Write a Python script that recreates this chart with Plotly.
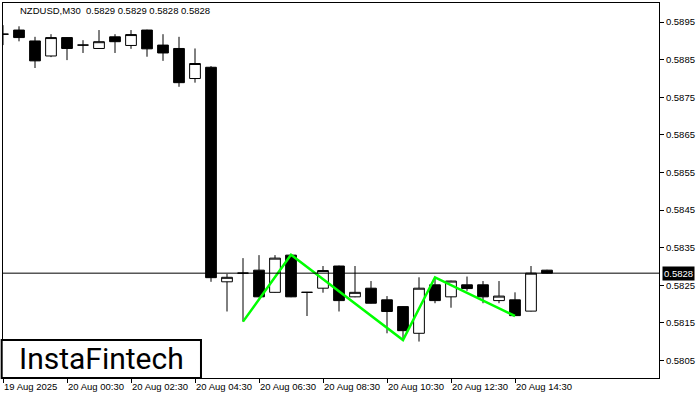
import plotly.graph_objects as go

# ---- data (NZDUSD, M30) ----
bar_index = list(range(35))
open_ = [0.58918, 0.58929, 0.58900, 0.58860, 0.58909, 0.58889, 0.58880, 0.58911, 0.58888, 0.58929,
         0.58889, 0.58880, 0.58800, 0.58830, 0.58259, 0.58282, 0.58290, 0.58231, 0.58330, 0.58231,
         0.58242, 0.58301, 0.58219, 0.58242, 0.58211, 0.58193, 0.58122, 0.58251, 0.58219, 0.58251,
         0.58251, 0.58209, 0.58211, 0.58181, 0.58290]
high = [0.58942, 0.58939, 0.58911, 0.58918, 0.58910, 0.58902, 0.58929, 0.58918, 0.58929, 0.58930,
        0.58918, 0.58911, 0.58880, 0.58833, 0.58280, 0.58322, 0.58330, 0.58330, 0.58331, 0.58232,
        0.58301, 0.58302, 0.58301, 0.58261, 0.58221, 0.58194, 0.58271, 0.58271, 0.58262, 0.58273,
        0.58261, 0.58261, 0.58231, 0.58301, 0.58291]
low = [0.58889, 0.58899, 0.58828, 0.58857, 0.58849, 0.58868, 0.58879, 0.58868, 0.58879, 0.58858,
       0.58847, 0.58778, 0.58789, 0.58259, 0.58180, 0.58153, 0.58218, 0.58230, 0.58218, 0.58168,
       0.58230, 0.58180, 0.58218, 0.58201, 0.58122, 0.58104, 0.58100, 0.58202, 0.58190, 0.58235,
       0.58202, 0.58202, 0.58168, 0.58180, 0.58281]
close = [0.58918, 0.58909, 0.58847, 0.58909, 0.58880, 0.58889, 0.58898, 0.58898, 0.58917, 0.58879,
         0.58868, 0.58789, 0.58840, 0.58270, 0.58271, 0.58282, 0.58219, 0.58322, 0.58219, 0.58231,
         0.58289, 0.58209, 0.58231, 0.58202, 0.58180, 0.58129, 0.58242, 0.58209, 0.58261, 0.58241,
         0.58219, 0.58221, 0.58169, 0.58282, 0.58282]

pattern_index = [15, 18, 25, 27, 32]
pattern_price = [0.58153, 0.58331, 0.58104, 0.58271, 0.58168]

x_tick_index = [0, 4, 8, 12, 16, 20, 24, 28, 32]
x_tick_labels = ["19 Aug 2025", "20 Aug 00:30", "20 Aug 02:30", "20 Aug 04:30", "20 Aug 06:30",
                 "20 Aug 08:30", "20 Aug 10:30", "20 Aug 12:30", "20 Aug 14:30"]
y_tick_values = [0.5805, 0.5815, 0.5825, 0.5835, 0.5845, 0.5855, 0.5865, 0.5875, 0.5885, 0.5895]
y_tick_labels = ["0.5805", "0.5815", "0.5825", "0.5835", "0.5845", "0.5855", "0.5865", "0.5875", "0.5885", "0.5895"]

title_text = "NZDUSD,M30\u00a0\u00a00.5829 0.5829 0.5828 0.5828"
current_price = close[-1]
current_label = "0.5828"

FONT = "Liberation Sans, Arial, sans-serif"

fig = go.Figure()
fig.add_trace(go.Candlestick(
    x=bar_index, open=open_, high=high, low=low, close=close,
    increasing=dict(fillcolor="white", line=dict(color="black", width=1)),
    decreasing=dict(fillcolor="black", line=dict(color="black", width=1)),
    whiskerwidth=0, showlegend=False, hoverinfo="skip",
))
fig.add_trace(go.Scatter(
    x=pattern_index, y=pattern_price, mode="lines",
    line=dict(color="#00ff00", width=2.5), showlegend=False, hoverinfo="skip",
))

fig.add_shape(type="line", xref="paper", x0=0, x1=1, yref="y", y0=current_price, y1=current_price,
              line=dict(color="black", width=1), layer="above")

# logo box
fig.add_shape(type="rect", xref="paper", yref="paper", x0=-0.002, x1=0.3018, y0=0, y1=0.1013,
              line=dict(color="black", width=2), fillcolor="white", layer="above")
fig.add_annotation(xref="paper", yref="paper", x=0.150, y=0.0507, text="InstaFintech",
                   showarrow=False, xanchor="center", yanchor="middle",
                   font=dict(family="Roboto, Open Sans, sans-serif", size=30, color="black"))

fig.add_annotation(xref="paper", yref="paper", x=0.0229, y=0.9787, text=title_text,
                   showarrow=False, xanchor="left", yanchor="middle",
                   font=dict(family=FONT, size=9.5, color="black"))

fig.add_annotation(xref="paper", yref="y", x=1, y=current_price, text=current_label,
                   showarrow=False, xanchor="left", yanchor="middle", xshift=3,
                   bgcolor="black", borderpad=1,
                   font=dict(family=FONT, size=9.5, color="white"))

fig.update_layout(
    width=700, height=400,
    margin=dict(l=3, r=41, t=3, b=22, autoexpand=False),
    paper_bgcolor="white", plot_bgcolor="white",
    boxgap=0.33, boxgroupgap=0,
    showlegend=False,
    xaxis=dict(
        range=[0, 41], tickmode="array", tickvals=x_tick_index, ticktext=x_tick_labels,
        ticks="outside", ticklen=4, tickcolor="black", ticklabelposition="outside right",
        tickangle=0, automargin=False,
        showline=True, mirror=True, linecolor="black", linewidth=1,
        showgrid=False, zeroline=False, rangeslider=dict(visible=False),
        tickfont=dict(family=FONT, size=9.5, color="black"),
    ),
    yaxis=dict(
        range=[0.58003, 0.59001], side="right", tickmode="array",
        tickvals=y_tick_values, ticktext=y_tick_labels,
        ticks="outside", ticklen=4, tickcolor="black", automargin=False,
        showline=True, mirror=True, linecolor="black", linewidth=1,
        showgrid=False, zeroline=False,
        tickfont=dict(family=FONT, size=9.5, color="black"),
    ),
)

fig.write_html("out.html", config={"displayModeBar": False},
               post_script="document.body.style.margin='0';document.body.style.overflow='hidden';")
